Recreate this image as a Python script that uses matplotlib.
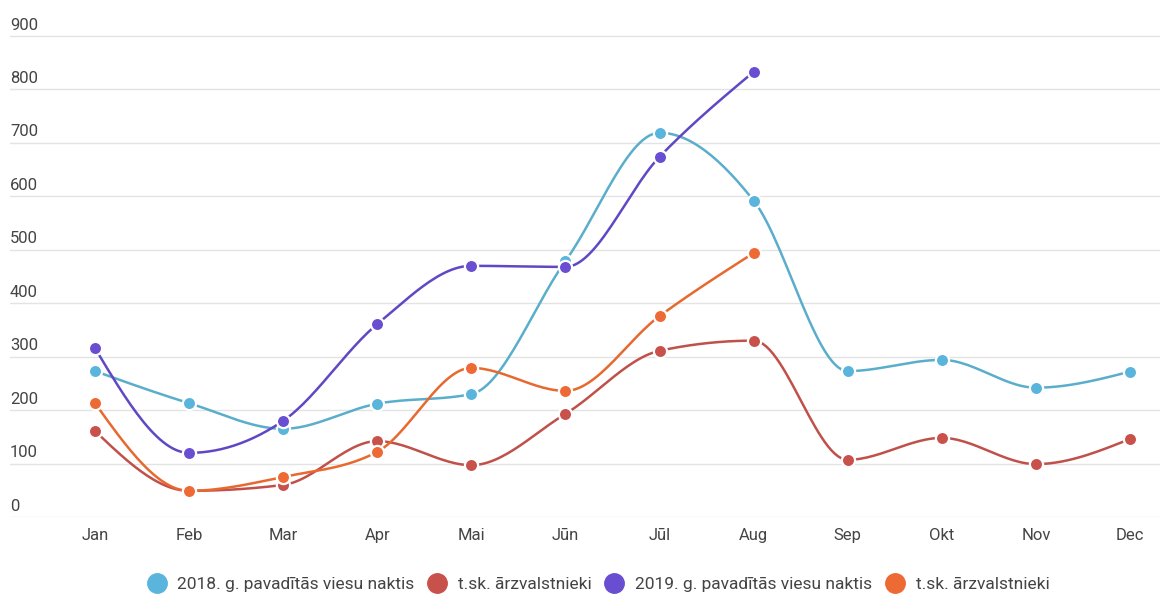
import numpy as np
import matplotlib.pyplot as plt
from matplotlib.lines import Line2D

plt.rcParams['font.family'] = ['Roboto', 'DejaVu Sans']

months = ['Jan', 'Feb', 'Mar', 'Apr', 'Mai', 'Jūn', 'Jūl', 'Aug', 'Sep', 'Okt', 'Nov', 'Dec']
nights_2018 = [273, 213, 165, 212, 230, 479, 719, 592, 273, 294, 242, 272]
foreign_2018 = [161, 49, 60, 142, 97, 193, 311, 330, 107, 148, 99, 146]
nights_2019 = [316, 120, 180, 361, 470, 468, 674, 833]
foreign_2019 = [213, 49, 75, 122, 279, 236, 376, 494]
yticks = [0, 100, 200, 300, 400, 500, 600, 700, 800, 900]

labels = ['2018. g. pavadītās viesu naktis', 't.sk. ārzvalstnieki',
          '2019. g. pavadītās viesu naktis', 't.sk. ārzvalstnieki']
colors = ['#5ab5dc', '#c9514b', '#6a4ed2', '#ee6a35']
line_colors = ['#5aaecb', '#c0504a', '#6048c4', '#e8692f']


def monotone(x, y, n=30):
    # d3 curveMonotoneX style interpolation
    x = np.asarray(x, float)
    y = np.asarray(y, float)
    h = np.diff(x)
    s = np.diff(y) / h
    m = np.zeros(len(y))
    for i in range(1, len(y) - 1):
        if s[i - 1] * s[i] <= 0:
            m[i] = 0
        else:
            p = (s[i - 1] * h[i] + s[i] * h[i - 1]) / (h[i - 1] + h[i])
            m[i] = (np.sign(s[i - 1]) + np.sign(s[i])) * min(abs(s[i - 1]), abs(s[i]), 0.5 * abs(p))
    m[0] = (3 * s[0] - m[1]) / 2 if len(y) > 2 else s[0]
    m[-1] = (3 * s[-1] - m[-2]) / 2 if len(y) > 2 else s[-1]
    xs, ys = [], []
    for i in range(len(y) - 1):
        t = np.linspace(0, 1, n)
        h00 = 2 * t**3 - 3 * t**2 + 1
        h10 = t**3 - 2 * t**2 + t
        h01 = -2 * t**3 + 3 * t**2
        h11 = t**3 - t**2
        xs.append(x[i] + t * h[i])
        ys.append(h00 * y[i] + h10 * h[i] * m[i] + h01 * y[i + 1] + h11 * h[i] * m[i + 1])
    return np.concatenate(xs), np.concatenate(ys)


fig = plt.figure(figsize=(11.66, 5.94), dpi=100)
W, H = 1166, 594
ax = fig.add_axes([10 / W, (H - 517) / H, 1150 / W, (517 - 30) / H])
step = (1130 - 95) / 11
ax.set_xlim(-(95 - 10) / step, 11 + (1160 - 1130) / step)
ax.set_ylim(0, 487 / 0.5344)

for v in yticks:
    ax.axhline(v, color='#e3e3e3', lw=1, zorder=0)
    ax.annotate(str(v), xy=(0, v), xycoords=('axes fraction', 'data'),
                xytext=(0, 2.5), textcoords='offset points', ha='left', va='bottom',
                fontsize=12, color='#444444')

series = [nights_2018, foreign_2018, nights_2019, foreign_2019]
for k in [0, 1, 2, 3]:
    vals = series[k]
    x = np.arange(len(vals))
    xs, ys = monotone(x, vals)
    ax.plot(xs, ys, color=line_colors[k], lw=1.8, zorder=2 + k, solid_capstyle='round')
    ax.plot(x, vals, 'o', color=colors[k], ms=9.5, mec='white', mew=1.6, zorder=2 + k)

ax.set_xticks(range(len(months)))
ax.set_xticklabels(months, fontsize=12, color='#444444')
ax.tick_params(axis='x', length=0, pad=8)
ax.set_yticks([])
for sp in ax.spines.values():
    sp.set_visible(False)

handles = [Line2D([], [], marker='o', ls='', color=c, ms=14) for c in colors]
fig.legend(handles, labels, loc='center', bbox_to_anchor=(0.512, (H - 584) / H), ncol=4,
           frameon=False, fontsize=12.5, handletextpad=0.5, columnspacing=0.6,
           labelcolor='#444444', handlelength=1.4)

fig.savefig('out.png', dpi=100)
